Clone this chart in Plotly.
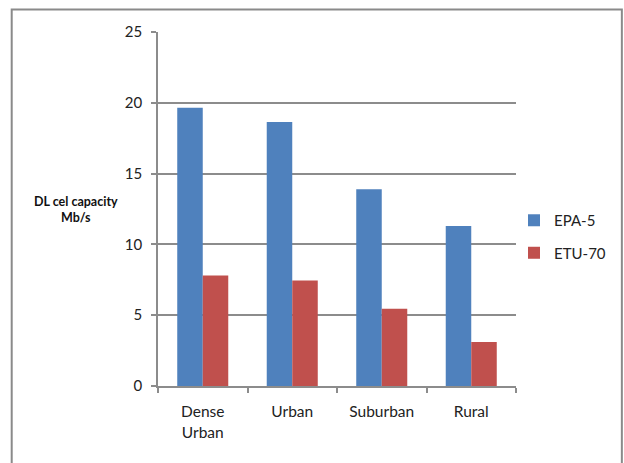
import plotly.graph_objects as go

categories = ["Dense<br>Urban", "Urban", "Suburban", "Rural"]
epa5 = [19.65, 18.65, 13.9, 11.3]
etu70 = [7.8, 7.45, 5.45, 3.1]
series_names = ["EPA-5", "ETU-70"]
y_ticks = [0, 5, 10, 15, 20, 25]

W, H = 624, 463
L, R, T, B = 157.5, 108, 31.5, 76.5
PW, PH = W - L - R, H - T - B

def px(x):
    return (x - L) / PW

def py(y):
    return (H - B - y) / PH

font = "Lato, 'Open Sans', sans-serif"
grey = "#8c8c8c"

fig = go.Figure()
fig.add_trace(go.Bar(x=categories, y=epa5, name=series_names[0], marker_color="#4F81BD",
                     marker_line_width=0, legendgroup="a"))
fig.add_trace(go.Bar(x=categories, y=etu70, name=series_names[1], marker_color="#C0504D",
                     marker_line_width=0, legendgroup="b"))

fig.update_layout(
    width=W, height=H,
    margin=dict(l=L, r=R, t=T, b=B, autoexpand=False),
    paper_bgcolor="white", plot_bgcolor="white",
    barmode="group", bargap=0.43, bargroupgap=0,
    font=dict(family=font, size=14, color="#222222"),
    legend=dict(x=px(514), xanchor="left", y=py(204), yanchor="top",
                tracegroupgap=10, font=dict(size=15, color="#222222"),
                bgcolor="rgba(0,0,0,0)"),
    xaxis=dict(showline=True, linecolor=grey, linewidth=1.5, ticks="outside",
               tickson="boundaries", ticklen=5, tickcolor=grey, tickwidth=1.5,
               showgrid=False, ticklabelstandoff=11, tickfont=dict(size=15.5)),
    yaxis=dict(range=[0, 25], tickvals=y_ticks, showline=True, linecolor=grey, linewidth=1.5,
               ticks="outside", ticklen=5, tickcolor=grey, tickwidth=1.5,
               showgrid=True, gridcolor=grey, gridwidth=1.5, zeroline=False,
               ticklabelstandoff=6, tickfont=dict(size=15)),
    shapes=[dict(type="rect", xref="paper", yref="paper",
                 x0=px(11), x1=px(622), y0=py(475), y1=py(9),
                 line=dict(color="#8a8a8a", width=2), fillcolor="rgba(0,0,0,0)")],
    annotations=[dict(text="<b>DL cel capacity<br>Mb/s</b>", xref="paper", yref="paper",
                      x=px(75), y=py(209), xanchor="center", yanchor="middle",
                      showarrow=False, font=dict(size=12.5, color="#111111"), align="center")],
)

fig.write_html("out.html")
